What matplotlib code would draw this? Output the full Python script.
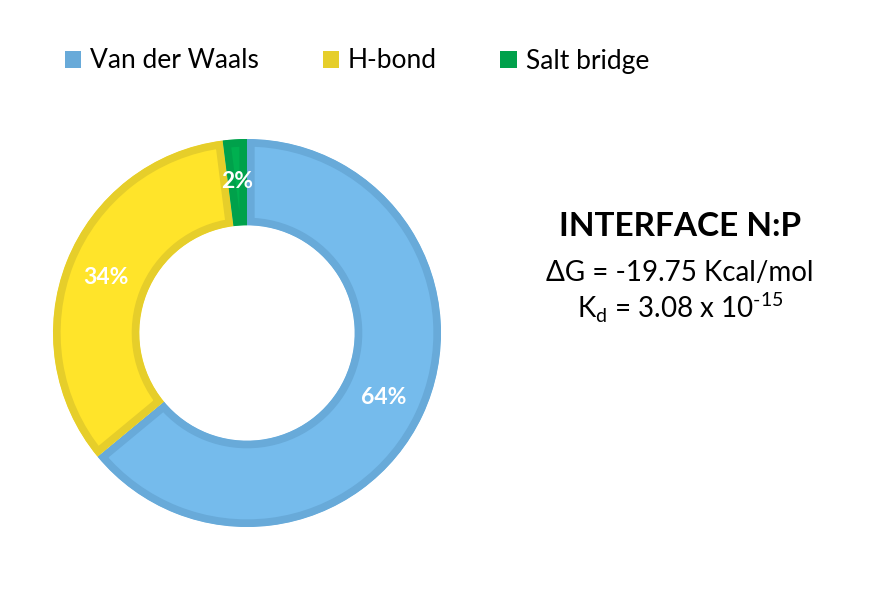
import matplotlib.pyplot as plt
from matplotlib.patches import Patch, Wedge

# ---------------------------
# Data
# ---------------------------
categories = ["Van der Waals", "H-bond", "Salt bridge"]
shares = [64, 34, 2]
face_colors = ["#75BBEC", "#FFE42A", "#00B050"]
edge_colors = ["#68AAD9", "#E6CE2A", "#00A14B"]

title = "INTERFACE N:P"
dg_line = "ΔG = -19.75 Kcal/mol"
kd_line = r"K$_\mathregular{d}$ = 3.08 x 10$^{\text{-15}}$"

plt.rcParams["font.family"] = ["Lato", "DejaVu Sans"]
plt.rcParams["mathtext.fontset"] = "custom"
plt.rcParams["mathtext.rm"] = "Lato"

W, H = 886, 591
fig = plt.figure(figsize=(W / 100, H / 100), dpi=100)
ax = fig.add_axes([0, 0, 1, 1])

R = 194
wedges, texts, autotexts = ax.pie(
    shares,
    colors=face_colors,
    startangle=90,
    counterclock=False,
    center=(247, H - 333),
    radius=R,
    frame=True,
    autopct="%d%%",
    pctdistance=0.78,
    wedgeprops=dict(width=R * 0.445, linewidth=11),
    textprops=dict(color="white", fontsize=16.5, fontweight="bold"),
)
# inner border: stroke clipped to a copy of the wedge shape
# (pie makes wedges with clip_on=False, so turn clipping back on)
for w, ec in zip(wedges, edge_colors):
    w.set_edgecolor(ec)
    clip = Wedge(w.center, w.r, w.theta1, w.theta2, width=w.width,
                 transform=ax.transData)
    w.set_clip_on(True)
    w.set_clip_path(clip)

ax.set_xlim(0, W)
ax.set_ylim(0, H)
ax.set_aspect("equal")
ax.axis("off")

# ---------------------------
# Legend
# ---------------------------
handles = [Patch(facecolor=c, edgecolor="none") for c in edge_colors]
fig.legend(
    handles, categories,
    loc="center left", bbox_to_anchor=(65 / W, 1 - 61 / H),
    ncol=3, frameon=False, fontsize=19,
    handlelength=0.62, handleheight=0.62,
    handletextpad=0.34, columnspacing=2.4, borderpad=0, borderaxespad=0,
)

# ---------------------------
# Annotation text
# ---------------------------
fig.text(680 / W, 1 - 226 / H, title, ha="center", va="center",
         fontsize=24, fontweight="bold")
fig.text(680 / W, 1 - 273 / H, dg_line, ha="center", va="center", fontsize=20)
fig.text(680 / W, 1 - 308 / H, kd_line, ha="center", va="center", fontsize=20)

fig.savefig("out.png", dpi=100)
